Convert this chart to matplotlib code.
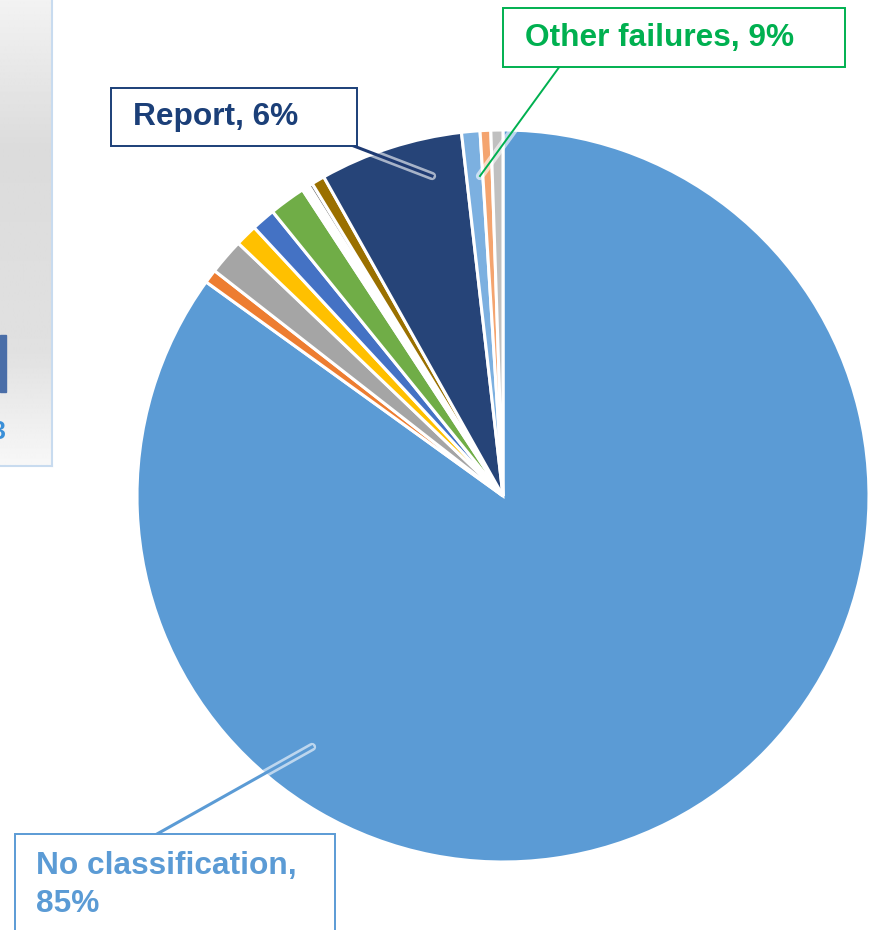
import numpy as np
import matplotlib
matplotlib.use("Agg")
import matplotlib.pyplot as plt
from matplotlib.patches import Rectangle

plt.rcParams["font.family"] = ["Liberation Sans", "DejaVu Sans"]

W, H = 874, 930

# slice shares in percent, clockwise from 12 o'clock
shares = [84.9, 0.61, 1.58, 0.97, 1.06, 1.61, 0.33, 0.17, 0.58, 6.33, 0.81, 0.47, 0.53]
colors = ["#5b9bd5", "#ed7d31", "#a5a5a5", "#ffc000", "#4472c4", "#70ad47", "#ffffff",
          "#6f6f6f", "#9a7000", "#264478", "#7cb0e0", "#f4a46f", "#c0c0c0"]

labels = ["No classification,\n85%", "Report, 6%", "Other failures, 9%"]
label_colors = ["#5b9bd5", "#1b3f78", "#00b050"]

fig = plt.figure(figsize=(W / 100, H / 100), dpi=100)
fig.patch.set_facecolor("white")


def px(x, y):
    return x / W, 1 - y / H


# cropped panel on the left edge
cx, cy, r = 503, 496, 366
pax = fig.add_axes([0, 1 - 466 / H, 52 / W, 466 / H])
grad = np.concatenate([np.linspace(0.95, 0.86, 150), np.linspace(0.86, 0.88, 200),
                       np.linspace(0.88, 0.97, 116)])
pax.imshow(np.repeat(grad[:, None], 10, axis=1), cmap="gray", vmin=0, vmax=1,
           aspect="auto", extent=[0, 52, 466, 0])
pax.add_patch(Rectangle((0, 335), 6, 57, color="#4a6ea8"))
pax.text(-9, 432, "3", color="#3a8fd8", fontsize=18, fontweight="bold",
         ha="left", va="center", clip_on=True)
pax.set_xlim(0, 52)
pax.set_ylim(466, 0)
pax.set_xticks([])
pax.set_yticks([])
for s in pax.spines.values():
    s.set_color("#c8dbef")
    s.set_linewidth(1.5)
pax.spines["left"].set_visible(False)
pax.spines["top"].set_visible(False)

# pie
ax = fig.add_axes([(cx - r) / W, (H - cy - r) / H, 2 * r / W, 2 * r / H])
ax.pie(shares, colors=colors, startangle=90, counterclock=False,
       wedgeprops=dict(edgecolor="white", linewidth=2.2))
ax.set_xlim(-1, 1)
ax.set_ylim(-1, 1)
ax.set_aspect("equal")
ax.axis("off")

# label boxes and leader lines (pixel layout)
boxes = [(15, 834, 320, 110), (111, 88, 246, 58), (503, 8, 342, 59)]
text_pos = [(36, 885), (133, 117), (525, 38)]
leaders = [((157, 834), (312, 747)), ((333, 138), (432, 176)), ((560, 66), (480, 176))]
line_colors = ["#5b9bd5", "#1f3b73", "#00b050"]

for (bx, by, bw, bh), (tx, ty), lab, tc in zip(boxes, text_pos, labels, label_colors):
    x0, y0 = px(bx, by + bh)
    fig.add_artist(Rectangle((x0, y0), bw / W, bh / H, transform=fig.transFigure,
                             facecolor="white", edgecolor=tc, linewidth=1.4, zorder=5))
    fig.text(*px(tx, ty), lab, color=tc, fontsize=22.8, fontweight="bold",
             ha="left", va="center", linespacing=1.33, zorder=6)

for (p0, p1), lc in zip(leaders, line_colors):
    xs = [p0[0] / W, p1[0] / W]
    ys = [1 - p0[1] / H, 1 - p1[1] / H]
    fig.add_artist(plt.Line2D(xs, ys, transform=fig.transFigure, color="white",
                              alpha=0.6, lw=6, zorder=4, solid_capstyle="round"))
    fig.add_artist(plt.Line2D(xs, ys, transform=fig.transFigure, color=lc,
                              lw=2.2 if lc != "#00b050" else 1.4, zorder=4))

fig.savefig("out.png", dpi=100, facecolor="white")
